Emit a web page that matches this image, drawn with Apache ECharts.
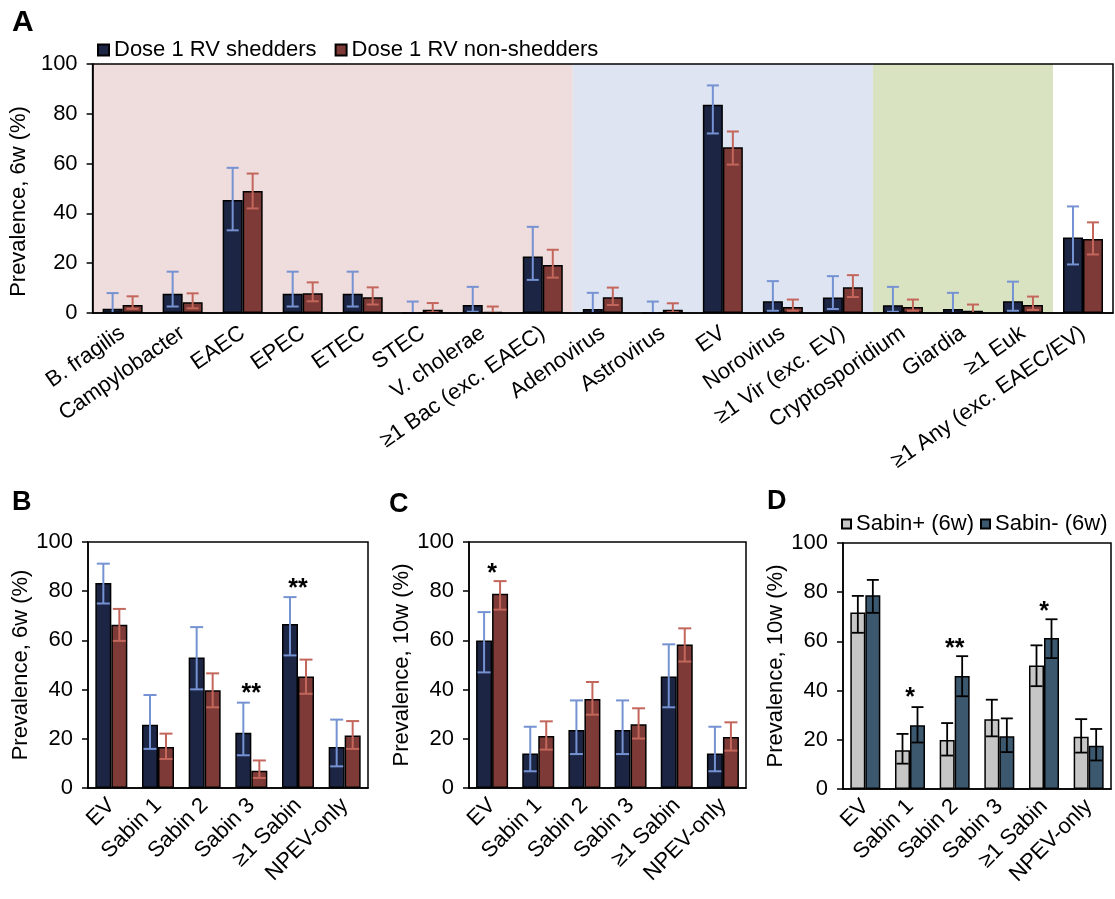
<!DOCTYPE html>
<html>
<head>
<meta charset="utf-8">
<script src="https://cdn.jsdelivr.net/npm/echarts@6/dist/echarts.min.js"></script>
<style>
html,body{margin:0;padding:0;background:#fff;}
#chart{width:1115px;height:899px;}
</style>
</head>
<body>
<div id="chart"></div>
<script>
// ---------- DATA ----------
const catsA = ['B. fragilis','Campylobacter','EAEC','EPEC','ETEC','STEC','V. cholerae','≥1 Bac (exc. EAEC)','Adenovirus','Astrovirus','EV','Norovirus','≥1 Vir (exc. EV)','Cryptosporidium','Giardia','≥1 Euk','≥1 Any (exc. EAEC/EV)'];
const shedA    = [1.7, 7.7, 45.4, 7.7, 7.7, 0, 3.2, 22.7, 1.6, 0, 83.6, 4.7, 6.2, 3.1, 1.6, 4.7, 30.3];
const shedA_lo = [0, 2.6, 33.2, 2.6, 2.6, 0, 0.5, 13.3, 0, 0, 72.1, 0.9, 1.6, 0.5, 0, 0.9, 19.5];
const shedA_hi = [8.0, 16.6, 58.3, 16.6, 16.6, 4.6, 10.5, 34.6, 8.1, 4.6, 91.4, 12.8, 14.8, 10.5, 8.1, 12.6, 42.8];
const nonA     = [3.2, 4.3, 49.0, 7.9, 6.3, 1.3, 0.5, 19.3, 6.3, 1.3, 66.6, 2.4, 10.3, 2.4, 0.9, 3.2, 29.7];
const nonA_lo  = [1.7, 1.9, 42.0, 4.7, 3.4, 0.3, 0, 14.2, 3.2, 0.3, 59.6, 0.9, 6.4, 0.9, 0, 1.2, 23.5];
const nonA_hi  = [6.7, 7.9, 56.0, 12.3, 10.3, 4.0, 2.6, 25.4, 10.2, 3.9, 72.9, 5.4, 15.2, 5.4, 3.4, 6.6, 36.4];
// background groups in panel A: [first category index, last category index]
const bandsA = [[0, 7], [8, 12], [13, 15]];

const catsBCD = ['EV','Sabin 1','Sabin 2','Sabin 3','≥1 Sabin','NPEV-only'];
const shedB    = [83.3, 25.7, 53.0, 22.5, 66.7, 16.7];
const shedB_lo = [75.0, 15.9, 40.1, 13.3, 53.9, 8.8];
const shedB_hi = [91.2, 37.8, 65.4, 34.7, 77.6, 27.8];
const nonB     = [66.4, 16.7, 39.7, 7.0, 45.3, 21.3];
const nonB_lo  = [59.8, 11.8, 32.8, 4.1, 38.3, 15.9];
const nonB_hi  = [72.8, 22.1, 46.6, 11.2, 52.2, 27.2];

const shedC    = [60.0, 14.0, 23.6, 23.6, 45.3, 14.0];
const shedC_lo = [47.0, 6.8, 13.8, 13.8, 32.8, 6.8];
const shedC_hi = [71.5, 24.9, 35.6, 35.6, 58.4, 24.9];
const nonC     = [79.0, 21.1, 36.2, 25.9, 58.3, 20.7];
const nonC_lo  = [72.5, 15.6, 29.8, 20.1, 51.4, 15.2];
const nonC_hi  = [84.1, 27.1, 43.1, 32.4, 64.9, 26.7];

const posD     = [71.7, 15.8, 19.9, 28.4, 50.2, 21.2];
const posD_lo  = [63.5, 10.3, 13.6, 21.4, 41.8, 14.8];
const posD_hi  = [78.5, 22.4, 26.8, 36.3, 58.4, 28.4];
const negD     = [78.8, 25.9, 45.9, 21.4, 61.4, 17.6];
const negD_lo  = [71.6, 18.9, 37.7, 15.0, 53.2, 11.6];
const negD_hi  = [85.0, 33.3, 54.0, 28.7, 69.0, 24.4];

// significance marks: category index, height, text
const starB_cat = [3, 4];       const starB_y = [38, 81];     const starB_txt = ['**', '**'];
const starC_cat = [0];          const starC_y = [87];         const starC_txt = ['*'];
const starD_cat = [1, 2, 4];    const starD_y = [37, 57, 72]; const starD_txt = ['*', '**', '*'];

const yTicks = [0, 20, 40, 60, 80, 100];

// ---------- STYLE ----------
const FONT = "'Liberation Sans', Arial, Helvetica, sans-serif";
const C_SHED = '#1c2544', C_NON = '#7e3a36';
const E_SHED = '#7592d2', E_NON = '#c3665c';
const C_POS = '#c6c6c6', C_NEG = '#3b586f';
const bandColors = ['#efdcdc', '#dee4f1', '#dae3c1'];

const chart = echarts.init(document.getElementById('chart'), null, {renderer: 'canvas'});

function xAxis(gi, data, rotate, margin) {
  return {
    type: 'category', gridIndex: gi, data: data, z: 10,
    axisLine: {lineStyle: {color: '#000', width: 1.5}},
    axisTick: {length: 7, lineStyle: {color: '#000', width: 1.5}},
    axisLabel: {interval: 0, rotate: rotate, fontSize: 22, color: '#000', fontFamily: FONT, margin: margin},
    splitLine: {show: false}
  };
}
function yAxis(gi, name, gap, pad) {
  return {
    type: 'value', gridIndex: gi, min: yTicks[0], max: yTicks[yTicks.length - 1], interval: 20, z: 10,
    axisLine: {show: true, lineStyle: {color: '#000', width: 1.5}},
    axisTick: {show: true, length: 6, lineStyle: {color: '#000', width: 1.5}},
    axisLabel: {fontSize: 22, color: '#000', fontFamily: FONT, margin: 15},
    splitLine: {show: false},
    name: name, nameLocation: 'middle', nameGap: gap,
    nameTextStyle: {fontSize: 22, color: '#000', fontFamily: FONT, padding: pad || 0}
  };
}
function bars(gi, name, vals, color, bw) {
  return {
    type: 'bar', name: name, xAxisIndex: gi, yAxisIndex: gi, data: vals,
    barWidth: bw, barGap: '0%', z: 2,
    itemStyle: {color: color, borderColor: '#000', borderWidth: 1.5},
    emphasis: {disabled: true}
  };
}
function errs(gi, lo, hi, sign, bw, capW, color, lw) {
  return {
    type: 'custom', xAxisIndex: gi, yAxisIndex: gi, z: 4,
    data: lo.map((l, i) => [i, l, hi[i]]),
    encode: {x: 0, y: [1, 2]},
    silent: true,
    renderItem: function (params, api) {
      const xi = api.value(0);
      const x = api.coord([xi, 0])[0] + sign * bw / 2;
      const yl = api.coord([xi, api.value(1)])[1];
      const yh = api.coord([xi, api.value(2)])[1];
      const st = {stroke: color, lineWidth: lw};
      return {type: 'group', children: [
        {type: 'line', shape: {x1: x, y1: yl, x2: x, y2: yh}, style: st},
        {type: 'line', shape: {x1: x - capW / 2, y1: yh, x2: x + capW / 2, y2: yh}, style: st},
        {type: 'line', shape: {x1: x - capW / 2, y1: yl, x2: x + capW / 2, y2: yl}, style: st}
      ]};
    }
  };
}
function stars(gi, cats, ys, txts) {
  return {
    type: 'custom', xAxisIndex: gi, yAxisIndex: gi, z: 5, silent: true,
    data: cats.map((c, i) => [c, ys[i]]),
    encode: {x: 0, y: 1},
    renderItem: function (params, api) {
      const p = api.coord([api.value(0), api.value(1)]);
      return {type: 'text', x: p[0], y: p[1], style: {
        text: txts[params.dataIndex], font: 'bold 25px ' + FONT, fill: '#000',
        align: 'center', verticalAlign: 'middle'}};
    }
  };
}
const bandSeries = {
  type: 'custom', xAxisIndex: 0, yAxisIndex: 0, z: 0, silent: true,
  data: bandsA.map(b => [b[0], b[1], 100]),
  encode: {x: [0, 1], y: 2},
  renderItem: function (params, api) {
    const w = api.size([1, 0])[0];
    const p0 = api.coord([api.value(0), 100]);
    const p1 = api.coord([api.value(1), 0]);
    return {type: 'rect', shape: {x: p0[0] - w / 2, y: p0[1], width: p1[0] - p0[0] + w, height: p1[1] - p0[1]},
      style: {fill: bandColors[params.dataIndex]}};
  }
};

const gridBase = {show: true, borderColor: '#000', borderWidth: 1.5, z: 10, backgroundColor: 'transparent'};

const option = {
  animation: false,
  backgroundColor: '#fff',
  textStyle: {fontFamily: FONT},
  grid: [
    Object.assign({left: 92, top: 64, width: 1021, height: 249}, gridBase),
    Object.assign({left: 88, top: 542, width: 280, height: 246}, gridBase),
    Object.assign({left: 469, top: 542, width: 277, height: 246}, gridBase),
    Object.assign({left: 843, top: 543, width: 268, height: 246}, gridBase)
  ],
  legend: [
    {left: 92, top: 34, itemWidth: 11, itemHeight: 11, itemGap: 18, icon: 'rect',
     data: ['Dose 1 RV shedders', 'Dose 1 RV non-shedders'],
     textStyle: {fontSize: 22, color: '#000', fontFamily: FONT}, selectedMode: false},
    {left: 841, top: 513, width: 400, itemWidth: 9, itemHeight: 9, itemGap: 6, icon: 'rect', padding: 0,
     data: ['Sabin+ (6w)', 'Sabin- (6w)'],
     textStyle: {fontSize: 22, color: '#000', fontFamily: FONT}, selectedMode: false}
  ],
  xAxis: [
    xAxis(0, catsA, 35, 18),
    xAxis(1, catsBCD, 45, 14),
    xAxis(2, catsBCD, 45, 14),
    xAxis(3, catsBCD, 45, 14)
  ],
  yAxis: [
    yAxis(0, 'Prevalence, 6w (%)', 53, [0, 26, 0, 0]),
    yAxis(1, 'Prevalence, 6w (%)', 53),
    yAxis(2, 'Prevalence, 10w (%)', 55),
    yAxis(3, 'Prevalence, 10w (%)', 51)
  ],
  graphic: [
    {type: 'text', left: 12, top: 8, style: {text: 'A', font: 'bold 30px ' + FONT, fill: '#000'}},
    {type: 'text', left: 12, top: 489, style: {text: 'B', font: 'bold 27px ' + FONT, fill: '#000'}},
    {type: 'text', left: 389, top: 491, style: {text: 'C', font: 'bold 27px ' + FONT, fill: '#000'}},
    {type: 'text', left: 767, top: 488, style: {text: 'D', font: 'bold 27px ' + FONT, fill: '#000'}}
  ],
  series: [
    bandSeries,
    bars(0, 'Dose 1 RV shedders', shedA, C_SHED, 20),
    bars(0, 'Dose 1 RV non-shedders', nonA, C_NON, 20),
    errs(0, shedA_lo, shedA_hi, -1, 20, 12, E_SHED, 2),
    errs(0, nonA_lo, nonA_hi, 1, 20, 12, E_NON, 2),

    bars(1, 'Dose 1 RV shedders', shedB, C_SHED, 16),
    bars(1, 'Dose 1 RV non-shedders', nonB, C_NON, 16),
    errs(1, shedB_lo, shedB_hi, -1, 16, 13, E_SHED, 2),
    errs(1, nonB_lo, nonB_hi, 1, 16, 13, E_NON, 2),
    stars(1, starB_cat, starB_y, starB_txt),

    bars(2, 'Dose 1 RV shedders', shedC, C_SHED, 16),
    bars(2, 'Dose 1 RV non-shedders', nonC, C_NON, 16),
    errs(2, shedC_lo, shedC_hi, -1, 16, 13, E_SHED, 2),
    errs(2, nonC_lo, nonC_hi, 1, 16, 13, E_NON, 2),
    stars(2, starC_cat, starC_y, starC_txt),

    bars(3, 'Sabin+ (6w)', posD, C_POS, 15),
    bars(3, 'Sabin- (6w)', negD, C_NEG, 15),
    errs(3, posD_lo, posD_hi, -1, 15, 12, '#000', 1.8),
    errs(3, negD_lo, negD_hi, 1, 15, 12, '#000', 1.8),
    stars(3, starD_cat, starD_y, starD_txt)
  ]
};
chart.setOption(option);
</script>
</body>
</html>
